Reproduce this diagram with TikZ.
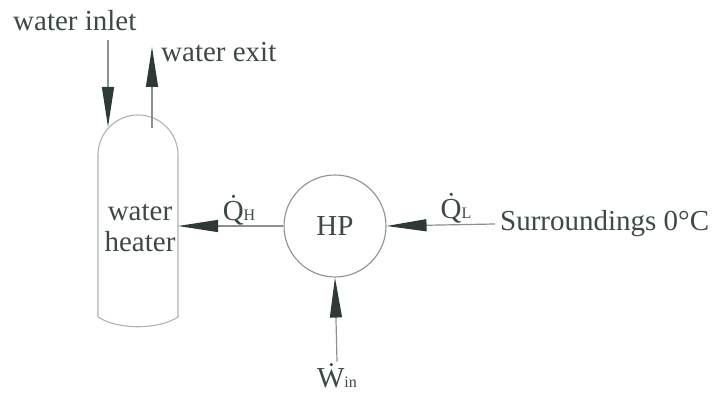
\documentclass[tikz,border=0pt]{standalone}
\usepackage{fontspec}
\setmainfont{Liberation Serif}
\newfontfamily\timesf{Liberation Serif}
\usetikzlibrary{arrows.meta,positioning}

\definecolor{inkc}{HTML}{3C4A44}
\definecolor{linec}{HTML}{8A928E}
\definecolor{headc}{HTML}{2E3B34}

\newcommand{\subsz}[1]{{\fontsize{16}{16}\selectfont #1}}

\begin{document}
\begin{tikzpicture}[
  x=1pt, y=-1pt,
  font=\timesf\fontsize{29}{31}\selectfont,
  every node/.style={text=inkc},
  lbl/.style={inner sep=2pt},
  hpbox/.style={circle, draw=linec, line width=1.1pt, minimum size=102pt, inner sep=0pt},
  tankline/.style={draw=linec!70, line width=1.1pt},
  flow/.style={-{Triangle[length=40pt, width=12pt, color=headc]}, draw=linec, line width=1.2pt}
]
\useasboundingbox (0,0) rectangle (724,395);

% tank
\draw[tankline] (98,317) -- (98,155) arc[start angle=180, end angle=0, radius=40pt]
  -- (178,317) .. controls (158,330) and (118,330) .. (98,317);
\node[lbl, align=center] (heater) at (140,228) {water\\heater};
\coordinate (tankR) at (178,226);

% heat pump
\node[hpbox] (hp) at (335,226) {HP};
\node[lbl, anchor=west, inner sep=5pt] (surr) at (495,224) {Surroundings 0\textdegree C};
\node[lbl] (win) at (337,376) {\.{W}\subsz{in}};
\node[lbl] (qh) at (239,210) {\.{Q}\subsz{H}};
\node[lbl] (ql) at (456,208) {\.{Q}\subsz{L}};

% water streams
\node[lbl, anchor=west] (inlet) at (11,21) {water inlet};
\node[lbl, anchor=west] (exit) at (159,52) {water exit};
\coordinate (inA) at (108,40);
\coordinate (inB) at (108,127);
\coordinate (exA) at (152,128);
\coordinate (exB) at (152,47);

\draw[flow] (inA) -- (inB);
\draw[flow] (exA) -- (exB);
\draw[flow] (hp.west) -- (tankR);
\draw[flow] (surr.west) -- (hp.east);
\draw[flow] (win.north) -- (hp.south);

\end{tikzpicture}
\end{document}
